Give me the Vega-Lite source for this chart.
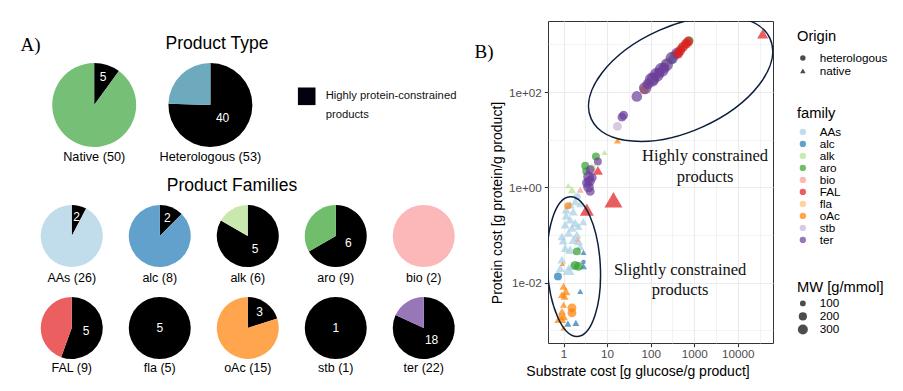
{
  "$schema": "https://vega.github.io/schema/vega-lite/v6.json",
  "padding": {"left": 18, "top": 20, "right": 0, "bottom": 0},
  "background": "white",
  "config": {
    "font": "Liberation Sans",
    "view": {"stroke": null}
  },
  "datasets": {
    "pies": [
      {"pie": "Native (50)", "cat": "Native (50)", "part": "high", "value": 5, "n": 50, "label": "5"},
      {"pie": "Native (50)", "cat": "Native (50)", "part": "other", "value": 45, "n": 50, "label": ""},
      {"pie": "Heterologous (53)", "cat": "Heterologous (53)", "part": "high", "value": 40, "n": 53, "label": "40"},
      {"pie": "Heterologous (53)", "cat": "Heterologous (53)", "part": "other", "value": 13, "n": 53, "label": ""},
      {"pie": "AAs (26)", "cat": "AAs", "part": "high", "value": 2, "n": 26, "label": "2"},
      {"pie": "AAs (26)", "cat": "AAs", "part": "other", "value": 24, "n": 26, "label": ""},
      {"pie": "alc (8)", "cat": "alc", "part": "high", "value": 1, "n": 8, "label": "2"},
      {"pie": "alc (8)", "cat": "alc", "part": "other", "value": 7, "n": 8, "label": ""},
      {"pie": "alk (6)", "cat": "alk", "part": "high", "value": 5, "n": 6, "label": "5"},
      {"pie": "alk (6)", "cat": "alk", "part": "other", "value": 1, "n": 6, "label": ""},
      {"pie": "aro (9)", "cat": "aro", "part": "high", "value": 6, "n": 9, "label": "6"},
      {"pie": "aro (9)", "cat": "aro", "part": "other", "value": 3, "n": 9, "label": ""},
      {"pie": "bio (2)", "cat": "bio", "part": "other", "value": 2, "n": 2, "label": ""},
      {"pie": "FAL (9)", "cat": "FAL", "part": "high", "value": 5, "n": 9, "label": "5"},
      {"pie": "FAL (9)", "cat": "FAL", "part": "other", "value": 4, "n": 9, "label": ""},
      {"pie": "fla (5)", "cat": "fla", "part": "high", "value": 5, "n": 5, "label": "5"},
      {"pie": "oAc (15)", "cat": "oAc", "part": "high", "value": 3, "n": 15, "label": "3"},
      {"pie": "oAc (15)", "cat": "oAc", "part": "other", "value": 12, "n": 15, "label": ""},
      {"pie": "stb (1)", "cat": "stb", "part": "high", "value": 1, "n": 1, "label": "1"},
      {"pie": "ter (22)", "cat": "ter", "part": "high", "value": 18, "n": 22, "label": "18"},
      {"pie": "ter (22)", "cat": "ter", "part": "other", "value": 4, "n": 22, "label": ""}
    ],
    "points": [
      {"family": "fla", "origin": "heterologous", "substrate": 78.9, "protein": 135.6, "mw": 220},
      {"family": "fla", "origin": "heterologous", "substrate": 126.9, "protein": 209, "mw": 230},
      {"family": "fla", "origin": "heterologous", "substrate": 183.6, "protein": 307.8, "mw": 210},
      {"family": "fla", "origin": "heterologous", "substrate": 252, "protein": 432, "mw": 240},
      {"family": "fla", "origin": "heterologous", "substrate": 365, "protein": 605, "mw": 200},
      {"family": "AAs", "origin": "native", "substrate": 1.85, "protein": 0.509, "mw": 243},
      {"family": "AAs", "origin": "native", "substrate": 1.42, "protein": 0.434, "mw": 243},
      {"family": "AAs", "origin": "native", "substrate": 2.42, "protein": 0.455, "mw": 200},
      {"family": "AAs", "origin": "native", "substrate": 1.42, "protein": 0.21, "mw": 243},
      {"family": "AAs", "origin": "native", "substrate": 1.85, "protein": 0.179, "mw": 300},
      {"family": "AAs", "origin": "native", "substrate": 1.09, "protein": 0.165, "mw": 243},
      {"family": "AAs", "origin": "native", "substrate": 1.56, "protein": 0.141, "mw": 243},
      {"family": "AAs", "origin": "native", "substrate": 2.21, "protein": 0.152, "mw": 200},
      {"family": "AAs", "origin": "native", "substrate": 1.3, "protein": 0.111, "mw": 243},
      {"family": "AAs", "origin": "native", "substrate": 0.919, "protein": 0.094, "mw": 243},
      {"family": "AAs", "origin": "native", "substrate": 2.03, "protein": 0.102, "mw": 243},
      {"family": "AAs", "origin": "native", "substrate": 1.7, "protein": 0.08, "mw": 300},
      {"family": "AAs", "origin": "native", "substrate": 2.21, "protein": 0.0738, "mw": 243},
      {"family": "AAs", "origin": "native", "substrate": 1.09, "protein": 0.0536, "mw": 243},
      {"family": "AAs", "origin": "native", "substrate": 1.42, "protein": 0.0494, "mw": 300},
      {"family": "AAs", "origin": "native", "substrate": 2.42, "protein": 0.0579, "mw": 200},
      {"family": "AAs", "origin": "native", "substrate": 0.919, "protein": 0.0305, "mw": 243},
      {"family": "AAs", "origin": "native", "substrate": 0.84, "protein": 0.0204, "mw": 243},
      {"family": "AAs", "origin": "native", "substrate": 1.3, "protein": 0.0188, "mw": 432},
      {"family": "AAs", "origin": "native", "substrate": 1.58, "protein": 0.0228, "mw": 300},
      {"family": "AAs", "origin": "native", "substrate": 1.15, "protein": 0.255, "mw": 243},
      {"family": "AAs", "origin": "native", "substrate": 1.67, "protein": 0.309, "mw": 243},
      {"family": "AAs", "origin": "native", "substrate": 2.83, "protein": 0.191, "mw": 200},
      {"family": "AAs", "origin": "native", "substrate": 0.984, "protein": 0.0763, "mw": 243},
      {"family": "AAs", "origin": "native", "substrate": 1.15, "protein": 0.341, "mw": 243},
      {"family": "AAs", "origin": "heterologous", "substrate": 2.06, "protein": 0.638, "mw": 151},
      {"family": "alc", "origin": "heterologous", "substrate": 0.744, "protein": 0.0136, "mw": 190},
      {"family": "alc", "origin": "native", "substrate": 2.87, "protein": 0.0434, "mw": 108},
      {"family": "alc", "origin": "heterologous", "substrate": 2.87, "protein": 0.0273, "mw": 60},
      {"family": "alc", "origin": "native", "substrate": 2.87, "protein": 0.0221, "mw": 147},
      {"family": "alc", "origin": "native", "substrate": 2.42, "protein": 0.0066, "mw": 108},
      {"family": "alc", "origin": "native", "substrate": 1.26, "protein": 0.00139, "mw": 147},
      {"family": "alc", "origin": "native", "substrate": 1.92, "protein": 0.00144, "mw": 147},
      {"family": "alc", "origin": "heterologous", "substrate": 306, "protein": 476, "mw": 190},
      {"family": "alk", "origin": "native", "substrate": 1.56, "protein": 0.895, "mw": 192},
      {"family": "alk", "origin": "native", "substrate": 8.72, "protein": 5.42, "mw": 108},
      {"family": "alk", "origin": "native", "substrate": 1.28, "protein": 1.09, "mw": 108},
      {"family": "alk", "origin": "heterologous", "substrate": 602, "protein": 958, "mw": 190},
      {"family": "alk", "origin": "heterologous", "substrate": 4.55, "protein": 2.59, "mw": 151},
      {"family": "alk", "origin": "heterologous", "substrate": 227, "protein": 392, "mw": 190},
      {"family": "aro", "origin": "heterologous", "substrate": 2.03, "protein": 0.0455, "mw": 190},
      {"family": "aro", "origin": "heterologous", "substrate": 1.85, "protein": 0.0232, "mw": 236},
      {"family": "aro", "origin": "heterologous", "substrate": 2.21, "protein": 0.0221, "mw": 236},
      {"family": "aro", "origin": "heterologous", "substrate": 3.32, "protein": 2.17, "mw": 190},
      {"family": "aro", "origin": "heterologous", "substrate": 5.54, "protein": 4.47, "mw": 190},
      {"family": "aro", "origin": "heterologous", "substrate": 764, "protein": 1190, "mw": 236},
      {"family": "aro", "origin": "heterologous", "substrate": 501, "protein": 809, "mw": 236},
      {"family": "aro", "origin": "heterologous", "substrate": 3.15, "protein": 2.85, "mw": 190},
      {"family": "aro", "origin": "heterologous", "substrate": 346, "protein": 577, "mw": 236},
      {"family": "bio", "origin": "native", "substrate": 2.42, "protein": 0.895, "mw": 147},
      {"family": "bio", "origin": "native", "substrate": 2.09, "protein": 0.0828, "mw": 108},
      {"family": "oAc", "origin": "heterologous", "substrate": 1.26, "protein": 0.413, "mw": 151},
      {"family": "oAc", "origin": "heterologous", "substrate": 71.0, "protein": 111.7, "mw": 236},
      {"family": "oAc", "origin": "heterologous", "substrate": 1.56, "protein": 0.00296, "mw": 236},
      {"family": "oAc", "origin": "heterologous", "substrate": 1.56, "protein": 0.00233, "mw": 236},
      {"family": "oAc", "origin": "native", "substrate": 17.3, "protein": 9.67, "mw": 147},
      {"family": "oAc", "origin": "native", "substrate": 1.0, "protein": 0.00841, "mw": 192},
      {"family": "oAc", "origin": "native", "substrate": 1.135, "protein": 0.0066, "mw": 243},
      {"family": "oAc", "origin": "native", "substrate": 0.919, "protein": 0.00563, "mw": 192},
      {"family": "oAc", "origin": "native", "substrate": 1.054, "protein": 0.00519, "mw": 192},
      {"family": "oAc", "origin": "native", "substrate": 1.0, "protein": 0.00347, "mw": 147},
      {"family": "oAc", "origin": "native", "substrate": 0.919, "protein": 0.00251, "mw": 192},
      {"family": "oAc", "origin": "native", "substrate": 1.0, "protein": 0.00198, "mw": 243},
      {"family": "oAc", "origin": "native", "substrate": 0.84, "protein": 0.00183, "mw": 432},
      {"family": "oAc", "origin": "native", "substrate": 1.0, "protein": 0.00113, "mw": 108},
      {"family": "oAc", "origin": "native", "substrate": 0.949, "protein": 0.0248, "mw": 75},
      {"family": "stb", "origin": "heterologous", "substrate": 17.3, "protein": 19.0, "mw": 236},
      {"family": "ter", "origin": "heterologous", "substrate": 48.2, "protein": 80.9, "mw": 340},
      {"family": "ter", "origin": "heterologous", "substrate": 74.8, "protein": 121, "mw": 460},
      {"family": "ter", "origin": "heterologous", "substrate": 106.6, "protein": 181, "mw": 600},
      {"family": "ter", "origin": "heterologous", "substrate": 138.7, "protein": 230.6, "mw": 600},
      {"family": "ter", "origin": "heterologous", "substrate": 180.7, "protein": 293.6, "mw": 600},
      {"family": "ter", "origin": "heterologous", "substrate": 235.3, "protein": 373.6, "mw": 460},
      {"family": "ter", "origin": "heterologous", "substrate": 306.4, "protein": 516, "mw": 460},
      {"family": "ter", "origin": "heterologous", "substrate": 399, "protein": 657, "mw": 340},
      {"family": "ter", "origin": "heterologous", "substrate": 114, "protein": 190, "mw": 460},
      {"family": "ter", "origin": "heterologous", "substrate": 156.6, "protein": 254, "mw": 340},
      {"family": "ter", "origin": "heterologous", "substrate": 87.6, "protein": 149, "mw": 340},
      {"family": "ter", "origin": "heterologous", "substrate": 204, "protein": 323, "mw": 340},
      {"family": "ter", "origin": "heterologous", "substrate": 21.9, "protein": 29.9, "mw": 236},
      {"family": "ter", "origin": "heterologous", "substrate": 24.0, "protein": 32.6, "mw": 236},
      {"family": "ter", "origin": "heterologous", "substrate": 6.15, "protein": 3.51, "mw": 190},
      {"family": "ter", "origin": "heterologous", "substrate": 4.1, "protein": 2.35, "mw": 236},
      {"family": "ter", "origin": "heterologous", "substrate": 3.75, "protein": 1.7, "mw": 339},
      {"family": "ter", "origin": "heterologous", "substrate": 3.95, "protein": 1.34, "mw": 339},
      {"family": "ter", "origin": "heterologous", "substrate": 3.75, "protein": 1.02, "mw": 339},
      {"family": "ter", "origin": "heterologous", "substrate": 4.1, "protein": 0.824, "mw": 236},
      {"family": "ter", "origin": "heterologous", "substrate": 3.44, "protein": 1.24, "mw": 285},
      {"family": "ter", "origin": "heterologous", "substrate": 4.55, "protein": 1.6, "mw": 236},
      {"family": "FAL", "origin": "native", "substrate": 37400, "protein": 1668, "mw": 363},
      {"family": "FAL", "origin": "native", "substrate": 6.15, "protein": 2.27, "mw": 300},
      {"family": "FAL", "origin": "native", "substrate": 14.0, "protein": 0.552, "mw": 970},
      {"family": "FAL", "origin": "native", "substrate": 3.44, "protein": 0.341, "mw": 590},
      {"family": "FAL", "origin": "heterologous", "substrate": 652, "protein": 1030, "mw": 285},
      {"family": "FAL", "origin": "heterologous", "substrate": 557, "protein": 891, "mw": 285},
      {"family": "FAL", "origin": "heterologous", "substrate": 475, "protein": 734, "mw": 285},
      {"family": "FAL", "origin": "heterologous", "substrate": 427, "protein": 635, "mw": 285},
      {"family": "FAL", "origin": "heterologous", "substrate": 724, "protein": 1135, "mw": 285}
    ]
  },
  "hconcat": [
    {
      "vconcat": [
        {
          "hconcat": [
            {"data": {"values": [{"t": "A)"}]}, "width": 25, "height": 41, "mark": {"type": "text", "font": "Liberation Serif", "fontSize": 19, "dy": 3.5, "color": "black"}, "encoding": {"text": {"field": "t"}}},
            {"data": {"values": [{"t": "Product Type"}]}, "width": 348, "height": 41, "mark": {"type": "text", "fontSize": 17.5, "dy": 2, "color": "black"}, "encoding": {"text": {"field": "t"}}}
          ],
          "bounds": "flush", "spacing": 0
        },
        {
          "hconcat": [
            {"data": {"values": [{"t": ""}]}, "width": 1.3, "height": 10, "mark": "text", "encoding": {"text": {"field": "t"}}},
            {
              "width": 84, "height": 84, "data": {"name": "pies"}, "transform": [{"filter": "datum.pie === 'Native (50)'"}],
              "layer": [
                {
                  "encoding": {"theta": {"field": "value", "type": "quantitative", "stack": true}, "order": {"field": "part", "type": "nominal"}},
                  "layer": [
                    {"mark": {"type": "arc", "outerRadius": 42}, "encoding": {"color": {"condition": {"test": "datum.part === 'high'", "value": "#000000"}, "field": "cat", "type": "nominal", "scale": {"domain": ["Native (50)", "Heterologous (53)", "AAs", "alc", "alk", "aro", "bio", "FAL", "fla", "oAc", "stb", "ter"], "range": ["#75bf76", "#6eaabd", "#c1ddeb", "#62a1cb", "#c9e8ad", "#70bd6b", "#fcb8b8", "#eb5f60", "#fed29a", "#ffa54d", "#dac9e2", "#9777b8"]}, "legend": null}}},
                    {"mark": {"type": "text", "radius": 29, "fontSize": 12, "color": "white"}, "encoding": {"text": {"condition": {"test": "datum.part === 'high' && datum.value < 0.4 * datum.n", "field": "label", "type": "nominal"}, "value": ""}}},
                    {"mark": {"type": "text", "radius": 17.5, "fontSize": 12, "color": "white"}, "encoding": {"text": {"condition": {"test": "datum.part === 'high' && datum.value >= 0.4 * datum.n && datum.value < datum.n", "field": "label", "type": "nominal"}, "value": ""}}}
                  ]
                },
                {"transform": [{"aggregate": [{"op": "count", "as": "k"}], "groupby": ["pie"]}], "mark": {"type": "text", "dy": 52, "fontSize": 12.7, "color": "black"}, "encoding": {"text": {"field": "pie"}}}
              ]
            },
            {
              "width": 84, "height": 84, "data": {"name": "pies"}, "transform": [{"filter": "datum.pie === 'Heterologous (53)'"}],
              "layer": [
                {
                  "encoding": {"theta": {"field": "value", "type": "quantitative", "stack": true}, "order": {"field": "part", "type": "nominal"}},
                  "layer": [
                    {"mark": {"type": "arc", "outerRadius": 42}, "encoding": {"color": {"condition": {"test": "datum.part === 'high'", "value": "#000000"}, "field": "cat", "type": "nominal", "scale": {"domain": ["Native (50)", "Heterologous (53)", "AAs", "alc", "alk", "aro", "bio", "FAL", "fla", "oAc", "stb", "ter"], "range": ["#75bf76", "#6eaabd", "#c1ddeb", "#62a1cb", "#c9e8ad", "#70bd6b", "#fcb8b8", "#eb5f60", "#fed29a", "#ffa54d", "#dac9e2", "#9777b8"]}, "legend": null}}},
                    {"mark": {"type": "text", "radius": 29, "fontSize": 12, "color": "white"}, "encoding": {"text": {"condition": {"test": "datum.part === 'high' && datum.value < 0.4 * datum.n", "field": "label", "type": "nominal"}, "value": ""}}},
                    {"mark": {"type": "text", "radius": 17.5, "fontSize": 12, "color": "white"}, "encoding": {"text": {"condition": {"test": "datum.part === 'high' && datum.value >= 0.4 * datum.n && datum.value < datum.n", "field": "label", "type": "nominal"}, "value": ""}}}
                  ]
                },
                {"transform": [{"aggregate": [{"op": "count", "as": "k"}], "groupby": ["pie"]}], "mark": {"type": "text", "dy": 52, "fontSize": 12.7, "color": "black"}, "encoding": {"text": {"field": "pie"}}}
              ]
            },
            {
              "data": {"values": [{"t": "Highly protein-constrained\nproducts"}]},
              "width": 44.2, "height": 66.6,
              "layer": [
                {"mark": {"type": "point", "shape": "square", "filled": true, "size": 310, "color": "#05000e", "opacity": 1, "strokeWidth": 0}, "encoding": {}},
                {"mark": {"type": "text", "align": "left", "baseline": "middle", "dx": 19, "lineBreak": "\n", "lineHeight": 19, "fontSize": 11.25, "color": "#111111"}, "encoding": {"text": {"field": "t"}}}
              ]
            }
          ],
          "bounds": "flush", "spacing": 32.2
        },
        {"data": {"values": [{"t": "Product Families"}]}, "width": 428, "height": 39.5, "mark": {"type": "text", "fontSize": 17.5, "dy": 2.25, "color": "black"}, "encoding": {"text": {"field": "t"}}},
        {
          "hconcat": [
            {"data": {"values": [{"t": ""}]}, "width": 9.25, "height": 10, "mark": "text", "encoding": {"text": {"field": "t"}}},
            {
              "width": 87.5, "height": 62, "data": {"name": "pies"}, "transform": [{"filter": "datum.pie === 'AAs (26)'"}],
              "layer": [
                {
                  "encoding": {"theta": {"field": "value", "type": "quantitative", "stack": true}, "order": {"field": "part", "type": "nominal"}},
                  "layer": [
                    {"mark": {"type": "arc", "outerRadius": 31}, "encoding": {"color": {"condition": {"test": "datum.part === 'high'", "value": "#000000"}, "field": "cat", "type": "nominal", "scale": {"domain": ["Native (50)", "Heterologous (53)", "AAs", "alc", "alk", "aro", "bio", "FAL", "fla", "oAc", "stb", "ter"], "range": ["#75bf76", "#6eaabd", "#c1ddeb", "#62a1cb", "#c9e8ad", "#70bd6b", "#fcb8b8", "#eb5f60", "#fed29a", "#ffa54d", "#dac9e2", "#9777b8"]}, "legend": null}}},
                    {"mark": {"type": "text", "radius": 20, "fontSize": 12, "color": "white"}, "encoding": {"text": {"condition": {"test": "datum.part === 'high' && datum.value < 0.4 * datum.n", "field": "label", "type": "nominal"}, "value": ""}}},
                    {"mark": {"type": "text", "radius": 14.5, "fontSize": 12, "color": "white"}, "encoding": {"text": {"condition": {"test": "datum.part === 'high' && datum.value >= 0.4 * datum.n && datum.value < datum.n", "field": "label", "type": "nominal"}, "value": ""}}},
                    {"mark": {"type": "text", "radius": 0, "fontSize": 12, "color": "white"}, "encoding": {"text": {"condition": {"test": "datum.part === 'high' && datum.value >= datum.n", "field": "label", "type": "nominal"}, "value": ""}}}
                  ]
                },
                {"transform": [{"aggregate": [{"op": "count", "as": "k"}], "groupby": ["pie"]}], "mark": {"type": "text", "dy": 42, "fontSize": 12.5, "color": "black"}, "encoding": {"text": {"field": "pie"}}}
              ]
            },
            {
              "width": 87.5, "height": 62, "data": {"name": "pies"}, "transform": [{"filter": "datum.pie === 'alc (8)'"}],
              "layer": [
                {
                  "encoding": {"theta": {"field": "value", "type": "quantitative", "stack": true}, "order": {"field": "part", "type": "nominal"}},
                  "layer": [
                    {"mark": {"type": "arc", "outerRadius": 31}, "encoding": {"color": {"condition": {"test": "datum.part === 'high'", "value": "#000000"}, "field": "cat", "type": "nominal", "scale": {"domain": ["Native (50)", "Heterologous (53)", "AAs", "alc", "alk", "aro", "bio", "FAL", "fla", "oAc", "stb", "ter"], "range": ["#75bf76", "#6eaabd", "#c1ddeb", "#62a1cb", "#c9e8ad", "#70bd6b", "#fcb8b8", "#eb5f60", "#fed29a", "#ffa54d", "#dac9e2", "#9777b8"]}, "legend": null}}},
                    {"mark": {"type": "text", "radius": 20, "fontSize": 12, "color": "white"}, "encoding": {"text": {"condition": {"test": "datum.part === 'high' && datum.value < 0.4 * datum.n", "field": "label", "type": "nominal"}, "value": ""}}},
                    {"mark": {"type": "text", "radius": 14.5, "fontSize": 12, "color": "white"}, "encoding": {"text": {"condition": {"test": "datum.part === 'high' && datum.value >= 0.4 * datum.n && datum.value < datum.n", "field": "label", "type": "nominal"}, "value": ""}}},
                    {"mark": {"type": "text", "radius": 0, "fontSize": 12, "color": "white"}, "encoding": {"text": {"condition": {"test": "datum.part === 'high' && datum.value >= datum.n", "field": "label", "type": "nominal"}, "value": ""}}}
                  ]
                },
                {"transform": [{"aggregate": [{"op": "count", "as": "k"}], "groupby": ["pie"]}], "mark": {"type": "text", "dy": 42, "fontSize": 12.5, "color": "black"}, "encoding": {"text": {"field": "pie"}}}
              ]
            },
            {
              "width": 87.5, "height": 62, "data": {"name": "pies"}, "transform": [{"filter": "datum.pie === 'alk (6)'"}],
              "layer": [
                {
                  "encoding": {"theta": {"field": "value", "type": "quantitative", "stack": true}, "order": {"field": "part", "type": "nominal"}},
                  "layer": [
                    {"mark": {"type": "arc", "outerRadius": 31}, "encoding": {"color": {"condition": {"test": "datum.part === 'high'", "value": "#000000"}, "field": "cat", "type": "nominal", "scale": {"domain": ["Native (50)", "Heterologous (53)", "AAs", "alc", "alk", "aro", "bio", "FAL", "fla", "oAc", "stb", "ter"], "range": ["#75bf76", "#6eaabd", "#c1ddeb", "#62a1cb", "#c9e8ad", "#70bd6b", "#fcb8b8", "#eb5f60", "#fed29a", "#ffa54d", "#dac9e2", "#9777b8"]}, "legend": null}}},
                    {"mark": {"type": "text", "radius": 20, "fontSize": 12, "color": "white"}, "encoding": {"text": {"condition": {"test": "datum.part === 'high' && datum.value < 0.4 * datum.n", "field": "label", "type": "nominal"}, "value": ""}}},
                    {"mark": {"type": "text", "radius": 14.5, "fontSize": 12, "color": "white"}, "encoding": {"text": {"condition": {"test": "datum.part === 'high' && datum.value >= 0.4 * datum.n && datum.value < datum.n", "field": "label", "type": "nominal"}, "value": ""}}},
                    {"mark": {"type": "text", "radius": 0, "fontSize": 12, "color": "white"}, "encoding": {"text": {"condition": {"test": "datum.part === 'high' && datum.value >= datum.n", "field": "label", "type": "nominal"}, "value": ""}}}
                  ]
                },
                {"transform": [{"aggregate": [{"op": "count", "as": "k"}], "groupby": ["pie"]}], "mark": {"type": "text", "dy": 42, "fontSize": 12.5, "color": "black"}, "encoding": {"text": {"field": "pie"}}}
              ]
            },
            {
              "width": 87.5, "height": 62, "data": {"name": "pies"}, "transform": [{"filter": "datum.pie === 'aro (9)'"}],
              "layer": [
                {
                  "encoding": {"theta": {"field": "value", "type": "quantitative", "stack": true}, "order": {"field": "part", "type": "nominal"}},
                  "layer": [
                    {"mark": {"type": "arc", "outerRadius": 31}, "encoding": {"color": {"condition": {"test": "datum.part === 'high'", "value": "#000000"}, "field": "cat", "type": "nominal", "scale": {"domain": ["Native (50)", "Heterologous (53)", "AAs", "alc", "alk", "aro", "bio", "FAL", "fla", "oAc", "stb", "ter"], "range": ["#75bf76", "#6eaabd", "#c1ddeb", "#62a1cb", "#c9e8ad", "#70bd6b", "#fcb8b8", "#eb5f60", "#fed29a", "#ffa54d", "#dac9e2", "#9777b8"]}, "legend": null}}},
                    {"mark": {"type": "text", "radius": 20, "fontSize": 12, "color": "white"}, "encoding": {"text": {"condition": {"test": "datum.part === 'high' && datum.value < 0.4 * datum.n", "field": "label", "type": "nominal"}, "value": ""}}},
                    {"mark": {"type": "text", "radius": 14.5, "fontSize": 12, "color": "white"}, "encoding": {"text": {"condition": {"test": "datum.part === 'high' && datum.value >= 0.4 * datum.n && datum.value < datum.n", "field": "label", "type": "nominal"}, "value": ""}}},
                    {"mark": {"type": "text", "radius": 0, "fontSize": 12, "color": "white"}, "encoding": {"text": {"condition": {"test": "datum.part === 'high' && datum.value >= datum.n", "field": "label", "type": "nominal"}, "value": ""}}}
                  ]
                },
                {"transform": [{"aggregate": [{"op": "count", "as": "k"}], "groupby": ["pie"]}], "mark": {"type": "text", "dy": 42, "fontSize": 12.5, "color": "black"}, "encoding": {"text": {"field": "pie"}}}
              ]
            },
            {
              "width": 87.5, "height": 62, "data": {"name": "pies"}, "transform": [{"filter": "datum.pie === 'bio (2)'"}],
              "layer": [
                {
                  "encoding": {"theta": {"field": "value", "type": "quantitative", "stack": true}, "order": {"field": "part", "type": "nominal"}},
                  "layer": [
                    {"mark": {"type": "arc", "outerRadius": 31}, "encoding": {"color": {"condition": {"test": "datum.part === 'high'", "value": "#000000"}, "field": "cat", "type": "nominal", "scale": {"domain": ["Native (50)", "Heterologous (53)", "AAs", "alc", "alk", "aro", "bio", "FAL", "fla", "oAc", "stb", "ter"], "range": ["#75bf76", "#6eaabd", "#c1ddeb", "#62a1cb", "#c9e8ad", "#70bd6b", "#fcb8b8", "#eb5f60", "#fed29a", "#ffa54d", "#dac9e2", "#9777b8"]}, "legend": null}}}
                  ]
                },
                {"transform": [{"aggregate": [{"op": "count", "as": "k"}], "groupby": ["pie"]}], "mark": {"type": "text", "dy": 42, "fontSize": 12.5, "color": "black"}, "encoding": {"text": {"field": "pie"}}}
              ]
            }
          ],
          "bounds": "flush", "spacing": 0
        },
        {"data": {"values": [{"t": ""}]}, "width": 1, "height": 4, "mark": "text", "encoding": {"text": {"field": "t"}}},
        {
          "hconcat": [
            {"data": {"values": [{"t": ""}]}, "width": 9.25, "height": 10, "mark": "text", "encoding": {"text": {"field": "t"}}},
            {
              "width": 87.5, "height": 62, "data": {"name": "pies"}, "transform": [{"filter": "datum.pie === 'FAL (9)'"}],
              "layer": [
                {
                  "encoding": {"theta": {"field": "value", "type": "quantitative", "stack": true}, "order": {"field": "part", "type": "nominal"}},
                  "layer": [
                    {"mark": {"type": "arc", "outerRadius": 31}, "encoding": {"color": {"condition": {"test": "datum.part === 'high'", "value": "#000000"}, "field": "cat", "type": "nominal", "scale": {"domain": ["Native (50)", "Heterologous (53)", "AAs", "alc", "alk", "aro", "bio", "FAL", "fla", "oAc", "stb", "ter"], "range": ["#75bf76", "#6eaabd", "#c1ddeb", "#62a1cb", "#c9e8ad", "#70bd6b", "#fcb8b8", "#eb5f60", "#fed29a", "#ffa54d", "#dac9e2", "#9777b8"]}, "legend": null}}},
                    {"mark": {"type": "text", "radius": 20, "fontSize": 12, "color": "white"}, "encoding": {"text": {"condition": {"test": "datum.part === 'high' && datum.value < 0.4 * datum.n", "field": "label", "type": "nominal"}, "value": ""}}},
                    {"mark": {"type": "text", "radius": 14.5, "fontSize": 12, "color": "white"}, "encoding": {"text": {"condition": {"test": "datum.part === 'high' && datum.value >= 0.4 * datum.n && datum.value < datum.n", "field": "label", "type": "nominal"}, "value": ""}}},
                    {"mark": {"type": "text", "radius": 0, "fontSize": 12, "color": "white"}, "encoding": {"text": {"condition": {"test": "datum.part === 'high' && datum.value >= datum.n", "field": "label", "type": "nominal"}, "value": ""}}}
                  ]
                },
                {"transform": [{"aggregate": [{"op": "count", "as": "k"}], "groupby": ["pie"]}], "mark": {"type": "text", "dy": 40, "fontSize": 12.5, "color": "black"}, "encoding": {"text": {"field": "pie"}}}
              ]
            },
            {
              "width": 87.5, "height": 62, "data": {"name": "pies"}, "transform": [{"filter": "datum.pie === 'fla (5)'"}],
              "layer": [
                {
                  "encoding": {"theta": {"field": "value", "type": "quantitative", "stack": true}, "order": {"field": "part", "type": "nominal"}},
                  "layer": [
                    {"mark": {"type": "arc", "outerRadius": 31}, "encoding": {"color": {"condition": {"test": "datum.part === 'high'", "value": "#000000"}, "field": "cat", "type": "nominal", "scale": {"domain": ["Native (50)", "Heterologous (53)", "AAs", "alc", "alk", "aro", "bio", "FAL", "fla", "oAc", "stb", "ter"], "range": ["#75bf76", "#6eaabd", "#c1ddeb", "#62a1cb", "#c9e8ad", "#70bd6b", "#fcb8b8", "#eb5f60", "#fed29a", "#ffa54d", "#dac9e2", "#9777b8"]}, "legend": null}}},
                    {"mark": {"type": "text", "radius": 0, "fontSize": 12, "color": "white"}, "encoding": {"text": {"condition": {"test": "datum.part === 'high' && datum.value >= datum.n", "field": "label", "type": "nominal"}, "value": ""}}}
                  ]
                },
                {"transform": [{"aggregate": [{"op": "count", "as": "k"}], "groupby": ["pie"]}], "mark": {"type": "text", "dy": 40, "fontSize": 12.5, "color": "black"}, "encoding": {"text": {"field": "pie"}}}
              ]
            },
            {
              "width": 87.5, "height": 62, "data": {"name": "pies"}, "transform": [{"filter": "datum.pie === 'oAc (15)'"}],
              "layer": [
                {
                  "encoding": {"theta": {"field": "value", "type": "quantitative", "stack": true}, "order": {"field": "part", "type": "nominal"}},
                  "layer": [
                    {"mark": {"type": "arc", "outerRadius": 31}, "encoding": {"color": {"condition": {"test": "datum.part === 'high'", "value": "#000000"}, "field": "cat", "type": "nominal", "scale": {"domain": ["Native (50)", "Heterologous (53)", "AAs", "alc", "alk", "aro", "bio", "FAL", "fla", "oAc", "stb", "ter"], "range": ["#75bf76", "#6eaabd", "#c1ddeb", "#62a1cb", "#c9e8ad", "#70bd6b", "#fcb8b8", "#eb5f60", "#fed29a", "#ffa54d", "#dac9e2", "#9777b8"]}, "legend": null}}},
                    {"mark": {"type": "text", "radius": 20, "fontSize": 12, "color": "white"}, "encoding": {"text": {"condition": {"test": "datum.part === 'high' && datum.value < 0.4 * datum.n", "field": "label", "type": "nominal"}, "value": ""}}},
                    {"mark": {"type": "text", "radius": 14.5, "fontSize": 12, "color": "white"}, "encoding": {"text": {"condition": {"test": "datum.part === 'high' && datum.value >= 0.4 * datum.n && datum.value < datum.n", "field": "label", "type": "nominal"}, "value": ""}}}
                  ]
                },
                {"transform": [{"aggregate": [{"op": "count", "as": "k"}], "groupby": ["pie"]}], "mark": {"type": "text", "dy": 40, "fontSize": 12.5, "color": "black"}, "encoding": {"text": {"field": "pie"}}}
              ]
            },
            {
              "width": 87.5, "height": 62, "data": {"name": "pies"}, "transform": [{"filter": "datum.pie === 'stb (1)'"}],
              "layer": [
                {
                  "encoding": {"theta": {"field": "value", "type": "quantitative", "stack": true}, "order": {"field": "part", "type": "nominal"}},
                  "layer": [
                    {"mark": {"type": "arc", "outerRadius": 31}, "encoding": {"color": {"condition": {"test": "datum.part === 'high'", "value": "#000000"}, "field": "cat", "type": "nominal", "scale": {"domain": ["Native (50)", "Heterologous (53)", "AAs", "alc", "alk", "aro", "bio", "FAL", "fla", "oAc", "stb", "ter"], "range": ["#75bf76", "#6eaabd", "#c1ddeb", "#62a1cb", "#c9e8ad", "#70bd6b", "#fcb8b8", "#eb5f60", "#fed29a", "#ffa54d", "#dac9e2", "#9777b8"]}, "legend": null}}},
                    {"mark": {"type": "text", "radius": 0, "fontSize": 12, "color": "white"}, "encoding": {"text": {"condition": {"test": "datum.part === 'high' && datum.value >= datum.n", "field": "label", "type": "nominal"}, "value": ""}}}
                  ]
                },
                {"transform": [{"aggregate": [{"op": "count", "as": "k"}], "groupby": ["pie"]}], "mark": {"type": "text", "dy": 40, "fontSize": 12.5, "color": "black"}, "encoding": {"text": {"field": "pie"}}}
              ]
            },
            {
              "width": 87.5, "height": 62, "data": {"name": "pies"}, "transform": [{"filter": "datum.pie === 'ter (22)'"}],
              "layer": [
                {
                  "encoding": {"theta": {"field": "value", "type": "quantitative", "stack": true}, "order": {"field": "part", "type": "nominal"}},
                  "layer": [
                    {"mark": {"type": "arc", "outerRadius": 31}, "encoding": {"color": {"condition": {"test": "datum.part === 'high'", "value": "#000000"}, "field": "cat", "type": "nominal", "scale": {"domain": ["Native (50)", "Heterologous (53)", "AAs", "alc", "alk", "aro", "bio", "FAL", "fla", "oAc", "stb", "ter"], "range": ["#75bf76", "#6eaabd", "#c1ddeb", "#62a1cb", "#c9e8ad", "#70bd6b", "#fcb8b8", "#eb5f60", "#fed29a", "#ffa54d", "#dac9e2", "#9777b8"]}, "legend": null}}},
                    {"mark": {"type": "text", "radius": 20, "fontSize": 12, "color": "white"}, "encoding": {"text": {"condition": {"test": "datum.part === 'high' && datum.value < 0.4 * datum.n", "field": "label", "type": "nominal"}, "value": ""}}},
                    {"mark": {"type": "text", "radius": 14.5, "fontSize": 12, "color": "white"}, "encoding": {"text": {"condition": {"test": "datum.part === 'high' && datum.value >= 0.4 * datum.n && datum.value < datum.n", "field": "label", "type": "nominal"}, "value": ""}}}
                  ]
                },
                {"transform": [{"aggregate": [{"op": "count", "as": "k"}], "groupby": ["pie"]}], "mark": {"type": "text", "dy": 40, "fontSize": 12.5, "color": "black"}, "encoding": {"text": {"field": "pie"}}}
              ]
            }
          ],
          "bounds": "flush", "spacing": 0
        }
      ],
      "spacing": 0
    },
    {
      "hconcat": [
        {
          "data": {"values": [{"t": "B)"}]},
          "width": 22,
          "height": 62,
          "mark": {"type": "text", "font": "Liberation Serif", "fontSize": 19, "align": "center", "baseline": "middle", "color": "black"},
          "encoding": {"text": {"field": "t"}}
        },
        {
          "width": 225,
          "height": 322,
          "view": {"stroke": "#333333", "strokeWidth": 1},
          "layer": [
            {
              "data": {"name": "points"},
              "mark": {"type": "point", "filled": true, "opacity": 0.7, "strokeWidth": 0},
              "encoding": {
                "x": {
                  "field": "substrate", "type": "quantitative",
                  "scale": {"type": "log", "domain": [0.44, 64500], "nice": false},
                  "axis": {
                    "values": [1, 3.1623, 10, 31.623, 100, 316.23, 1000, 3162.3, 10000, 31623],
                    "format": "d",
                    "labelExpr": "indexof([1,10,100,1000,10000], datum.value) >= 0 ? datum.label : ''",
                    "labelOverlap": false, "labelFlush": false,
                    "domain": false,
                    "tickColor": "#333333", "tickSize": 3.7, "tickWidth": 1.1,
                    "tickOpacity": {"condition": {"test": "indexof([1,10,100,1000,10000], datum.value) < 0", "value": 0}, "value": 1},
                    "gridColor": "#ebebeb",
                    "gridWidth": {"condition": {"test": "indexof([1,10,100,1000,10000], datum.value) < 0", "value": 0.6}, "value": 1.1},
                    "labelColor": "#4d4d4d", "labelFontSize": 11.7, "labelPadding": 1.5,
                    "title": "Substrate cost [g glucose/g product]",
                    "titleFontSize": 14, "titleFontWeight": "normal", "titleColor": "black", "titlePadding": 5, "titleX": 89.5
                  }
                },
                "y": {
                  "field": "protein", "type": "quantitative",
                  "scale": {"type": "log", "domain": [0.000545, 3090], "nice": false},
                  "axis": {
                    "values": [0.001, 0.01, 0.1, 1, 10, 100, 1000],
                    "labelExpr": "datum.value == 0.01 ? '1e-02' : datum.value == 1 ? '1e+00' : datum.value == 100 ? '1e+02' : ''",
                    "labelOverlap": false, "labelFlush": false,
                    "domain": false,
                    "tickColor": "#333333", "tickSize": 3.7, "tickWidth": 1.1,
                    "tickOpacity": {"condition": {"test": "datum.value != 0.01 && datum.value != 1 && datum.value != 100", "value": 0}, "value": 1},
                    "gridColor": "#ebebeb",
                    "gridWidth": {"condition": {"test": "datum.value != 0.01 && datum.value != 1 && datum.value != 100", "value": 0.6}, "value": 1.1},
                    "labelColor": "#4d4d4d", "labelFontSize": 11.7, "labelPadding": 3,
                    "title": "Protein cost [g protein/g product]",
                    "titleFontSize": 14, "titleFontWeight": "normal", "titleColor": "black", "titlePadding": 4, "titleY": 181.5
                  }
                },
                "color": {
                  "field": "family", "type": "nominal",
                  "scale": {"domain": ["AAs", "alc", "alk", "aro", "bio", "FAL", "fla", "oAc", "stb", "ter"], "range": ["#a6cee3", "#1f78b4", "#b2df8a", "#33a02c", "#fb9a99", "#e31a1c", "#fdbf6f", "#ff7f00", "#cab2d6", "#6a3d9a"]},
                  "legend": {"orient": "none", "legendX": 324, "legendY": 85, "title": "family", "titleFontSize": 14.7, "titleFontWeight": "normal", "titleColor": "black", "titlePadding": 6, "labelFontSize": 11.7, "labelColor": "black", "labelOffset": 11, "symbolType": "circle", "symbolSize": 40, "symbolOpacity": 0.7, "symbolStrokeWidth": 0, "rowPadding": 0, "clipHeight": 10.5, "padding": 0}
                },
                "shape": {
                  "field": "origin", "type": "nominal",
                  "scale": {"domain": ["heterologous", "native"], "range": ["circle", "triangle-up"]},
                  "legend": {"orient": "none", "legendX": 324, "legendY": 8, "title": "Origin", "titleFontSize": 14.7, "titleFontWeight": "normal", "titleColor": "black", "titlePadding": 9, "labelFontSize": 11.7, "labelColor": "black", "labelOffset": 11, "symbolSize": 30, "symbolFillColor": "black", "symbolOpacity": 0.7, "symbolStrokeWidth": 0, "rowPadding": 1, "clipHeight": 10.5, "padding": 0}
                },
                "size": {
                  "field": "mw", "type": "quantitative",
                  "scale": {"domain": [0, 600], "range": [0, 200]},
                  "legend": {"orient": "none", "legendX": 324, "legendY": 259, "values": [100, 200, 300], "title": "MW [g/mmol]", "titleFontSize": 14.7, "titleFontWeight": "normal", "titleColor": "black", "titlePadding": 3, "labelFontSize": 11.7, "labelColor": "black", "labelOffset": 11, "symbolType": "circle", "symbolFillColor": "black", "symbolOpacity": 0.7, "symbolStrokeWidth": 0, "rowPadding": 0, "clipHeight": 11.5, "padding": 0}
                }
              }
            },
            {
              "data": {"values": [{"substrate": 488, "protein": 190}]},
              "mark": {"type": "point", "shape": "M -1 0 A 1 0.54 0 1 1 1 0 A 1 0.54 0 1 1 -1 0 Z", "size": 38416, "angle": -24, "filled": false, "color": "#0c1e3c", "strokeWidth": 1.5, "opacity": 1, "clip": true},
              "encoding": {"x": {"field": "substrate", "type": "quantitative"}, "y": {"field": "protein", "type": "quantitative"}}
            },
            {
              "data": {"values": [{"substrate": 1.72, "protein": 0.0218}]},
              "mark": {"type": "point", "shape": "M 0 -1 A 0.379 1 0 1 1 0 1 A 0.379 1 0 1 1 0 -1 Z", "size": 19600, "angle": -3, "filled": false, "color": "#0c1e3c", "strokeWidth": 1.5, "opacity": 1, "clip": true},
              "encoding": {"x": {"field": "substrate", "type": "quantitative"}, "y": {"field": "protein", "type": "quantitative"}}
            },
            {
              "data": {"values": [
                {"substrate": 1780, "protein": 4.47, "t": "Highly constrained\nproducts"},
                {"substrate": 475, "protein": 0.0188, "t": "Slightly constrained\nproducts"}
              ]},
              "mark": {"type": "text", "font": "Liberation Serif", "fontSize": 16.5, "lineHeight": 20.5, "lineBreak": "\n", "align": "center", "baseline": "middle", "color": "#111111"},
              "encoding": {"x": {"field": "substrate", "type": "quantitative"}, "y": {"field": "protein", "type": "quantitative"}, "text": {"field": "t"}}
            }
          ]
        }
      ],
      "bounds": "flush",
      "spacing": 53
    }
  ],
  "spacing": 5,
  "resolve": {"scale": {"color": "independent", "size": "independent", "shape": "independent"}}
}
